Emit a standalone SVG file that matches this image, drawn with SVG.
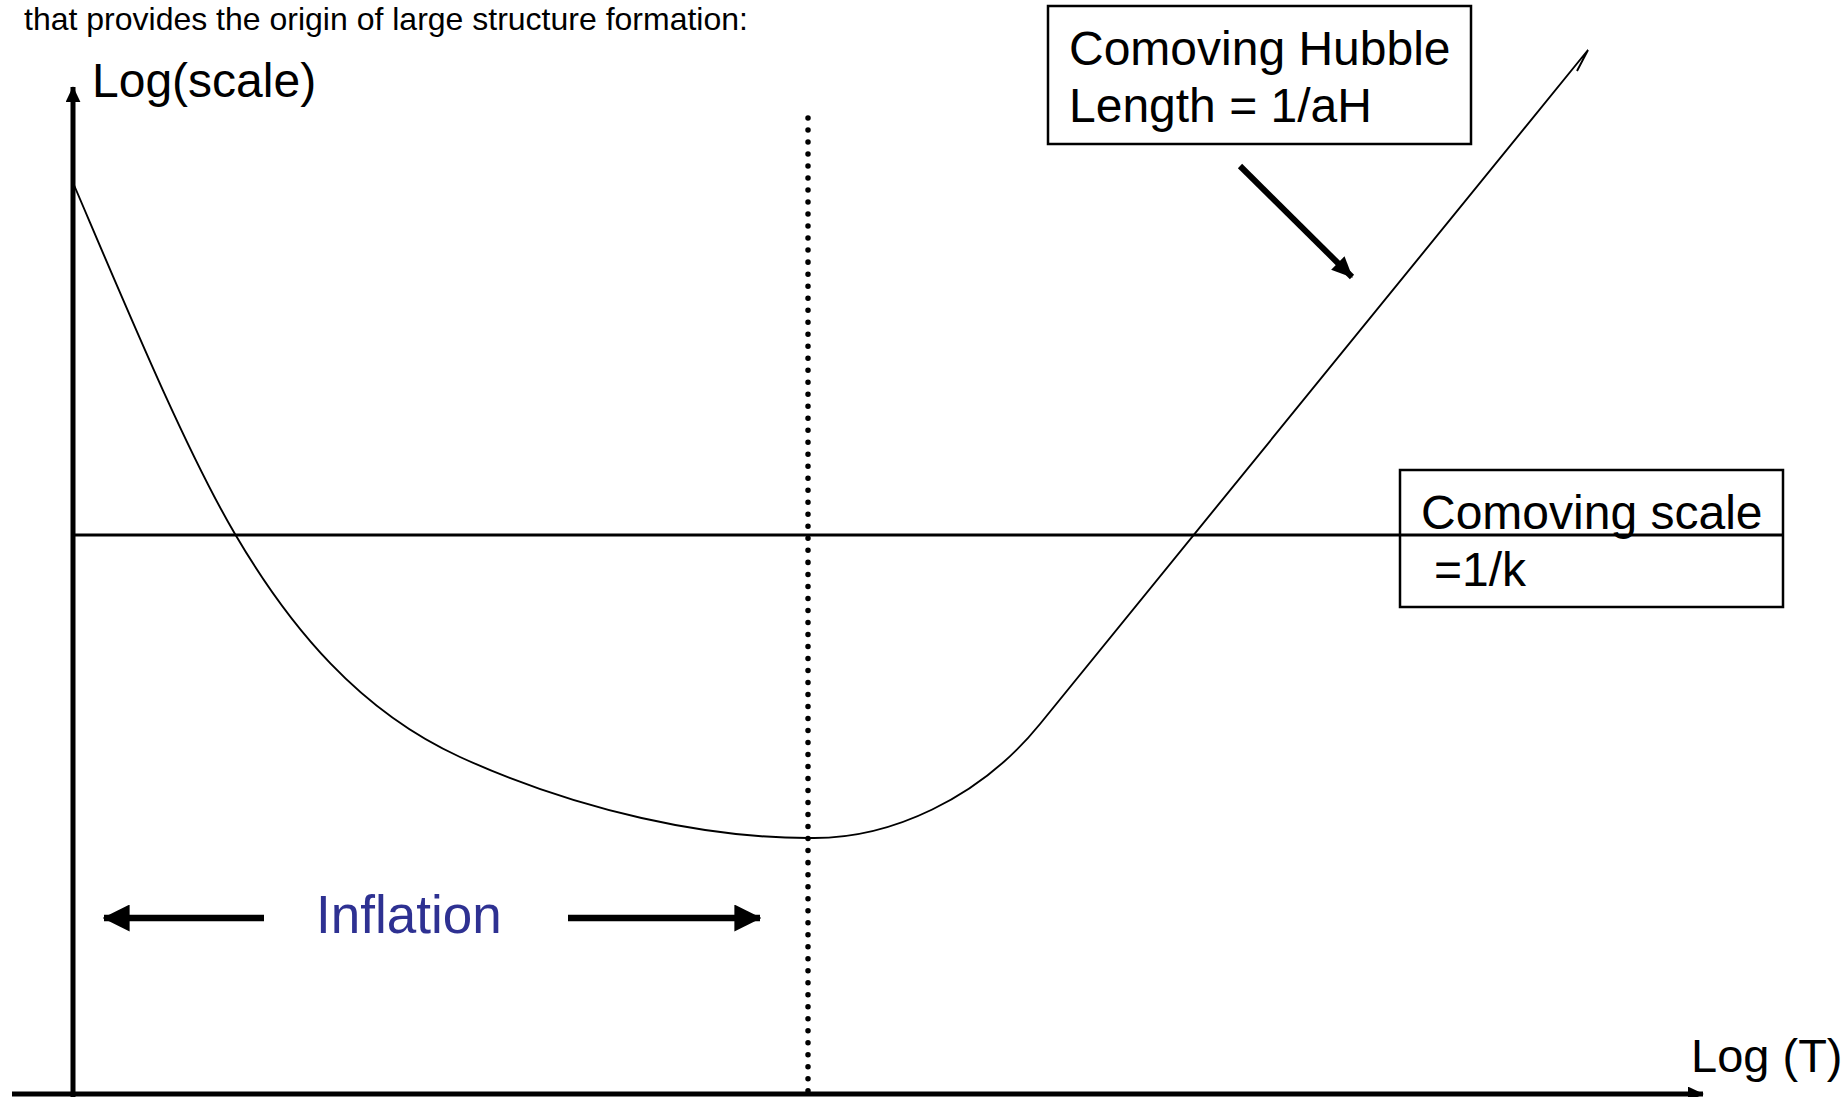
<svg xmlns="http://www.w3.org/2000/svg" width="1848" height="1097" viewBox="0 0 1848 1097">
<style>
text{font-family:"Liberation Sans",Arial,sans-serif;fill:#000}
.lbl{font-size:48px}
.box{fill:#fff;stroke:#000;stroke-width:2.5}
</style>
<defs>
<marker id="ahBig" viewBox="0 0 10 10" refX="9.5" refY="5" markerWidth="27" markerHeight="27" markerUnits="userSpaceOnUse" orient="auto"><path d="M0,0 L10,5 L0,10 z" fill="#000"/></marker>
<marker id="ahMid" viewBox="0 0 10 10" refX="9.5" refY="5" markerWidth="21" markerHeight="19" markerUnits="userSpaceOnUse" orient="auto" preserveAspectRatio="none"><path d="M0,0 L10,5 L0,10 z" fill="#000"/></marker>
<marker id="ahSmall" viewBox="0 0 10 10" refX="9.5" refY="5" markerWidth="16" markerHeight="15" markerUnits="userSpaceOnUse" orient="auto" preserveAspectRatio="none"><path d="M0,0 L10,5 L0,10 z" fill="#000"/></marker>
</defs>
<rect width="1848" height="1097" fill="#fff"/>
<text x="24" y="30" style="font-size:32px">that provides the origin of large structure formation:</text>
<g id="connectors" fill="none" stroke="#000">
<line id="y-axis" x1="73" y1="1097" x2="73" y2="87" stroke-width="5" marker-end="url(#ahSmall)"/>
<line id="x-axis" x1="12" y1="1094" x2="1703" y2="1094" stroke-width="5" marker-end="url(#ahSmall)"/>
<line id="scale-line" x1="73" y1="535" x2="1400" y2="535" stroke-width="3"/>
<line id="dotted" x1="808" y1="118" x2="808" y2="1097" stroke-width="5.5" stroke-dasharray="0.01 12" stroke-linecap="round"/>
<path id="hubble-curve" stroke-width="1.9" d="M74,185 C124,302 185,449 235,534 C290,628 360,711.5 460,757 C580,811.6 708,838 808,838 C890,840 980,798 1040,724 L1588,50 L1577,71"/>
<line id="hubble-pointer" x1="1240" y1="166" x2="1352" y2="277" stroke-width="6" marker-end="url(#ahMid)"/>
<line id="infl-left" x1="264" y1="918" x2="104" y2="918" stroke-width="6.5" marker-end="url(#ahBig)"/>
<line id="infl-right" x1="568" y1="918" x2="760" y2="918" stroke-width="6.5" marker-end="url(#ahBig)"/>
</g>
<g id="y-label"><text class="lbl" x="92" y="97">Log(scale)</text></g>
<g id="x-label"><text class="lbl" x="1691" y="1072" style="font-size:47px">Log (T)</text></g>
<g id="hubble-box">
<rect class="box" x="1048" y="6" width="423" height="138"/>
<text class="lbl" x="1069" y="65">Comoving Hubble</text>
<text class="lbl" x="1069" y="122">Length = 1/aH</text>
</g>
<g id="scale-box">
<rect class="box" x="1400" y="470" width="383" height="137"/>
<line x1="1400" y1="535" x2="1783" y2="535" stroke="#000" stroke-width="3"/>
<text class="lbl" x="1421" y="529">Comoving scale</text>
<text class="lbl" x="1434" y="586">=1/k</text>
</g>
<g id="inflation"><text x="316" y="933" style="font-size:53px;fill:#2E3192">Inflation</text></g>
</svg>
